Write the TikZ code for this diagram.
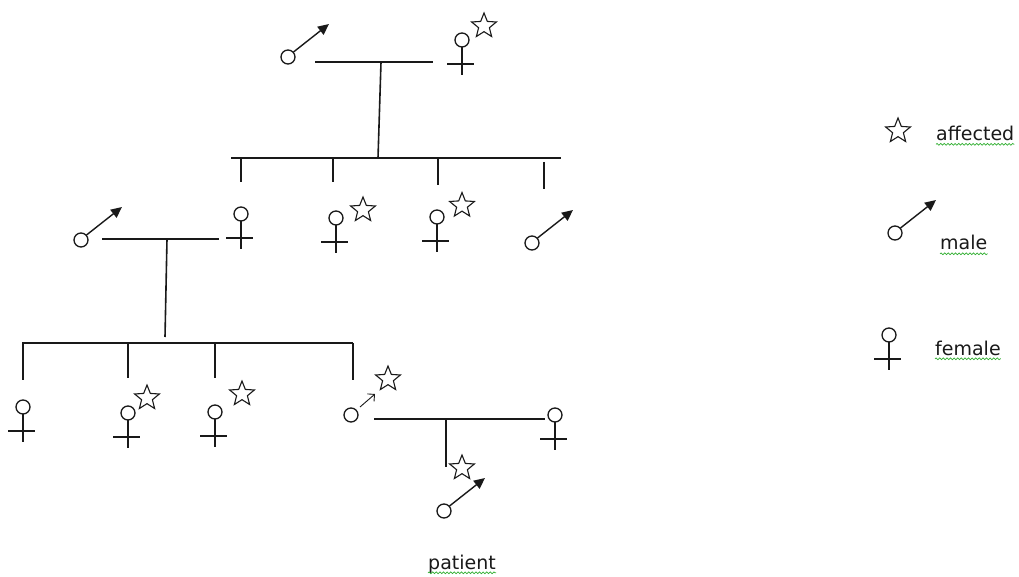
\documentclass[tikz,border=0pt]{standalone}
\usepackage{fontspec}
\setmainfont{DejaVu Sans}
\usetikzlibrary{arrows.meta,shapes.geometric,decorations.pathmorphing,calc}
\definecolor{ink}{RGB}{25,25,25}
\definecolor{squiggle}{RGB}{50,175,50}
\tikzset{
  pline/.style={draw=ink, line width=1.6pt},
  ring/.style={draw=ink, line width=1.3pt},
  stemline/.style={draw=ink, line width=1.4pt},
  maleline/.style={draw=ink, line width=1.4pt, -{Triangle[length=11pt,width=10pt]}},
  thinmale/.style={draw=ink, line width=0.9pt, -{Straight Barb[length=5pt,width=10pt]}},
  starmark/.style={draw=ink, line width=1.1pt, star, star points=5, star point ratio=2.3, minimum size=26pt, inner sep=0pt},
  label/.style={text=ink, anchor=base west, inner sep=0pt, font=\fontsize{19}{22}\selectfont},
  squig/.style={draw=squiggle, line width=0.7pt, decorate, decoration={snake, amplitude=0.9pt, segment length=3.6pt}},
  malesym/.pic={\draw[ring] (0,0) circle (7); \draw[maleline] (5.5,-5) -- (41,-33);},
  femalesym/.pic={\draw[ring] (0,0) circle (7); \draw[stemline] (0,7) -- (0,35); \draw[stemline] (-15,24) -- (12,24);},
}
\begin{document}
\begin{tikzpicture}[x=1pt,y=-1pt]
\useasboundingbox (0,0) rectangle (1019,577);

% ---------- generation I ----------
\coordinate (m1) at (288,57);
\coordinate (f1) at (462,40);
\pic at (m1) {malesym};
\pic at (f1) {femalesym};
\node[starmark] (s1) at (484,26) {};
\coordinate (mar1L) at (315,62);
\coordinate (mar1R) at (433,62);
\coordinate (d1t) at (381,62);
\coordinate (d1b) at (378,158);
\draw[pline] (mar1L) -- (mar1R);
\draw[pline] (d1t) -- (d1b);
\coordinate (sib1L) at (231,158);
\coordinate (sib1R) at (561,158);
\draw[pline] (sib1L) -- (sib1R);
\foreach \x/\a/\b in {241/158/182, 333/158/182, 438/158/185, 544/162/189}
  \draw[pline] (\x,\a) -- (\x,\b);

% ---------- generation II ----------
\coordinate (m2) at (81,240);
\coordinate (f2) at (241,214);
\coordinate (f3) at (336,218);
\coordinate (f4) at (437,217);
\coordinate (m3) at (532,243);
\pic at (m2) {malesym};
\pic at (f2) {femalesym};
\pic at (f3) {femalesym};
\pic at (f4) {femalesym};
\pic at (m3) {malesym};
\node[starmark] (s3) at (363,210) {};
\node[starmark] (s4) at (462,205.5) {};
\coordinate (mar2L) at (102,239);
\coordinate (mar2R) at (219,239);
\draw[pline] (mar2L) -- (mar2R);
\coordinate (d2t) at (167,239);
\coordinate (d2b) at (165,337);
\draw[pline] (d2t) -- (d2b);
\coordinate (sib2L) at (22,343);
\coordinate (sib2R) at (353,343);
\draw[pline] (sib2L) -- (sib2R);
\foreach \x/\b in {23/380, 128/378, 215/378, 353/380}
  \draw[pline] (\x,343) -- (\x,\b);

% ---------- generation III ----------
\coordinate (f5) at (23,407);
\coordinate (f6) at (128,413);
\coordinate (f7) at (215,412);
\coordinate (m4) at (351,415);
\coordinate (f8) at (555,415);
\pic at (f5) {femalesym};
\pic at (f6) {femalesym};
\pic at (f7) {femalesym};
\pic at (f8) {femalesym};
\node[starmark] (s6) at (147,398) {};
\node[starmark] (s7) at (242,394) {};
\draw[ring] (m4) circle (7);
\coordinate (m4a) at (360,407);
\coordinate (m4b) at (375,394);
\draw[thinmale] (m4a) -- (m4b);
\node[starmark] (s8) at (388,379) {};
\coordinate (mar3L) at (374,419);
\coordinate (mar3R) at (545,419);
\draw[pline] (mar3L) -- (mar3R);
\coordinate (d3t) at (446,419);
\coordinate (d3b) at (446,467);
\draw[pline] (d3t) -- (d3b);

% ---------- patient ----------
\coordinate (m5) at (444,511);
\pic at (m5) {malesym};
\node[starmark] (s9) at (462,468) {};
\node[label] (pat) at (428,569) {patient};
\draw[squig] ($(pat.base west)+(0,3.8)$) -- ($(pat.base east)+(0,3.8)$);

% ---------- legend ----------
\node[starmark] (lstar) at (898,131) {};
\node[label] (aff) at (936,140.5) {affected};
\draw[squig] ($(aff.base west)+(0,3.8)$) -- ($(aff.base east)+(0,3.8)$);
\coordinate (lmale) at (895,233);
\pic at (lmale) {malesym};
\node[label] (mal) at (940,250) {male};
\draw[squig] ($(mal.base west)+(0,3.8)$) -- ($(mal.base east)+(0,3.8)$);
\coordinate (lfem) at (889,335);
\pic at (lfem) {femalesym};
\node[label] (fem) at (935,355) {female};
\draw[squig] ($(fem.base west)+(0,3.8)$) -- ($(fem.base east)+(0,3.8)$);
\end{tikzpicture}
\end{document}
